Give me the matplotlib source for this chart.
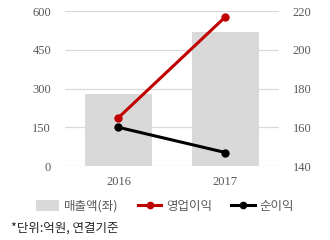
import matplotlib
matplotlib.use("Agg")
import matplotlib.pyplot as plt
from matplotlib.patches import Patch
from matplotlib.lines import Line2D

# data
years = ["2016", "2017"]
sales = [280, 520]          # 매출액 (left axis)
op_profit = [165, 217]      # 영업이익 (right axis)
net_profit = [160, 147]     # 순이익 (right axis)

left_ticks = [0, 150, 300, 450, 600]
right_ticks = [140, 160, 180, 200, 220]

KR = ["Noto Sans CJK KR", "DejaVu Sans"]
NUM = ["Liberation Serif", "DejaVu Serif"]
GRAY = "#595959"

fig = plt.figure(figsize=(3.3, 2.4), dpi=100)
ax = fig.add_axes([0.197, 0.308, 0.648, 0.646])

x = list(range(len(years)))
ax.bar(x, sales, width=0.62, color="#d9d9d9", zorder=2)
ax.set_ylim(0, 600)
ax.set_yticks(left_ticks)
ax.set_xlim(-0.5, 1.5)
ax.set_xticks(x)
ax.set_xticklabels(years)
ax.grid(axis="y", color="#d9d9d9", linewidth=0.9, zorder=0)
ax.set_axisbelow(True)

ax2 = ax.twinx()
ax2.plot(x, op_profit, color="#c00000", linewidth=2.2, marker="o", markersize=5, zorder=3)
ax2.plot(x, net_profit, color="black", linewidth=2.2, marker="o", markersize=5, zorder=3)
ax2.set_ylim(140, 220)
ax2.set_yticks(right_ticks)

for a in (ax, ax2):
    for s in a.spines.values():
        s.set_visible(False)
    a.tick_params(length=0, colors=GRAY, labelsize=9)
    for lab in a.get_xticklabels() + a.get_yticklabels():
        lab.set_fontfamily(NUM)
ax.tick_params(axis="y", pad=10)
ax2.tick_params(axis="y", pad=10)
ax.tick_params(axis="x", pad=7)

# legend below the plot
handles = [
    Patch(facecolor="#d9d9d9", edgecolor="none"),
    Line2D([0], [0], color="#c00000", linewidth=2.2, marker="o", markersize=4.5),
    Line2D([0], [0], color="black", linewidth=2.2, marker="o", markersize=4.5),
]
labels = ["매출액(좌)", "영업이익", "순이익"]
fig.legend(handles, labels, loc="center", bbox_to_anchor=(0.5, 0.14), ncol=3,
           frameon=False, prop={"family": KR, "size": 9}, handlelength=1.9,
           handleheight=0.9, handletextpad=0.4, columnspacing=1.5, labelcolor=GRAY)

fig.text(0.033, 0.05, "*단위:억원, 연결기준", family=KR, fontsize=9, color="#262626",
         va="center", ha="left")

fig.savefig("out.png", dpi=100)
